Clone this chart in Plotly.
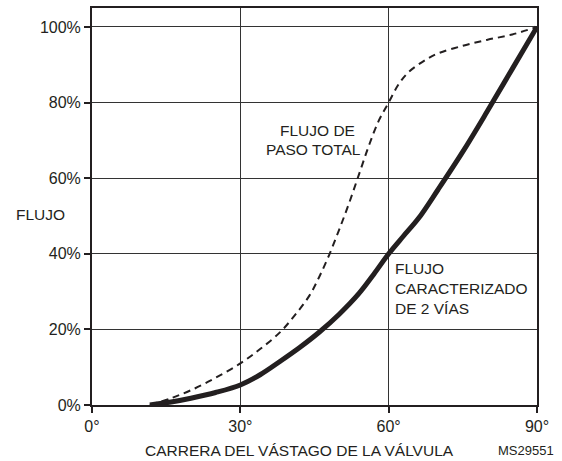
import plotly.graph_objects as go

# Full-port flow (dashed)
full_x = [11.7, 16, 20, 25, 30, 34, 38, 41, 44, 46, 48, 50, 52, 54, 56, 58, 60, 62, 64, 67, 70, 75, 80, 85, 90]
full_y = [0, 1.8, 3.9, 7.2, 11, 14.8, 19.2, 23.7, 29, 34, 39.8, 46.4, 53.4, 61, 68.6, 75.2, 80, 84.8, 88, 90.9, 93, 95, 96.6, 98, 100]

# 2-way characterized flow (solid)
char_x = [11.7, 16, 20, 25, 30, 34, 38, 42, 46, 50, 54, 57, 60, 63, 66, 70, 75, 80, 85, 90]
char_y = [0, 0.8, 1.8, 3.3, 5.3, 8.0, 11.5, 15.2, 19.3, 24.0, 29.5, 34.6, 40, 44.7, 49.3, 57, 67, 77.8, 88.9, 100]

x_ticks = [0, 30, 60, 90]
x_tick_labels = ["0°", "30°", "60°", "90°"]
y_ticks = [0, 20, 40, 60, 80, 100]
y_tick_labels = ["0%", "20%", "40%", "60%", "80%", "100%"]

FONT = "Liberation Sans, Arial, Helvetica, sans-serif"
TXT = "#231f20"
FS = 15.5

fig = go.Figure()
fig.add_trace(go.Scatter(x=full_x, y=full_y, mode="lines",
                         line=dict(color=TXT, width=2, dash="7px,5px", shape="spline", smoothing=1.0),
                         showlegend=False, hoverinfo="skip"))
fig.add_trace(go.Scatter(x=char_x, y=char_y, mode="lines",
                         line=dict(color=TXT, width=5, shape="spline", smoothing=1.0),
                         showlegend=False, hoverinfo="skip"))

fig.update_layout(
    width=562, height=461,
    margin=dict(l=92, r=25, t=6, b=56),
    paper_bgcolor="white", plot_bgcolor="white",
    font=dict(family=FONT, size=FS, color=TXT),
    xaxis=dict(range=[0, 90], tickvals=x_ticks, ticktext=x_tick_labels,
               showgrid=True, gridcolor="#333333", gridwidth=1,
               showline=True, linecolor=TXT, linewidth=2, mirror=True,
               ticks="outside", ticklen=6, tickwidth=2, tickcolor=TXT,
               zeroline=False, tickfont=dict(size=16)),
    yaxis=dict(range=[0, 105], tickvals=y_ticks, ticktext=y_tick_labels,
               showgrid=True, gridcolor="#333333", gridwidth=1,
               showline=True, linecolor=TXT, linewidth=2, mirror=True,
               ticks="outside", ticklen=6, tickwidth=2, tickcolor=TXT,
               zeroline=False, tickfont=dict(size=16)),
)

annotations = [
    dict(text="FLUJO", xref="paper", yref="paper", x=-0.175, y=0.4787,
         xanchor="left", yanchor="middle", showarrow=False),
    dict(text="CARRERA DEL VÁSTAGO DE LA VÁLVULA", xref="paper", yref="paper",
         x=0.4663, y=-0.1153, xanchor="center", yanchor="middle", showarrow=False),
    dict(text="MS29551", xref="paper", yref="paper", x=0.9764, y=-0.1153,
         xanchor="center", yanchor="middle", showarrow=False, font=dict(size=13)),
    dict(text="FLUJO DE", xref="x", yref="y", x=45.6, y=72.6,
         xanchor="center", yanchor="middle", showarrow=False),
    dict(text="PASO TOTAL", xref="x", yref="y", x=44.8, y=67.6,
         xanchor="center", yanchor="middle", showarrow=False),
    dict(text="FLUJO<br>CARACTERIZADO<br>DE 2 VÍAS", xref="x", yref="y", x=60.8, y=30.8,
         xanchor="left", yanchor="middle", align="left", showarrow=False),
]
fig.update_layout(annotations=annotations)

fig.write_html("out.html", config={"displayModeBar": False},
               post_script="document.body.style.margin='0px';")
